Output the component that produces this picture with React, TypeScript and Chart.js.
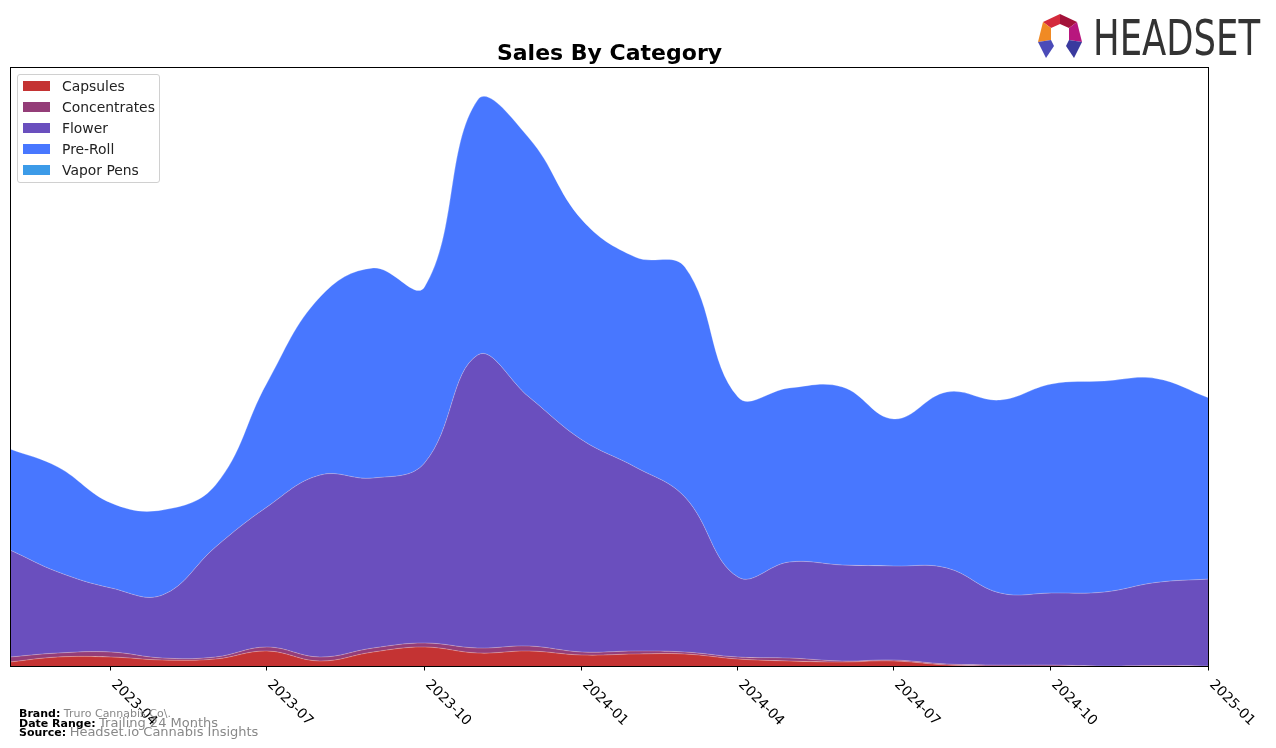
import React, { useEffect, useRef } from "react";
import { Chart, registerables } from "chart.js";

Chart.register(...registerables);

// ---- Data (arbitrary units) ----
const months = [
  "2023-02", "2023-03", "2023-04", "2023-05", "2023-06", "2023-07",
  "2023-08", "2023-09", "2023-10", "2023-11", "2023-12", "2024-01",
  "2024-02", "2024-03", "2024-04", "2024-05", "2024-06", "2024-07",
  "2024-08", "2024-09", "2024-10", "2024-11", "2024-12", "2025-01",
];
const capsules = [5, 10, 10, 7, 8, 16, 6, 15, 20, 14, 16, 12, 13, 13, 8, 6, 5, 6, 2, 1, 1, 0.5, 0.5, 0.5];
const concentrates = [5, 4, 5, 2, 2, 4, 4, 4, 4, 5, 5, 3, 3, 2, 2, 3, 1, 1, 1, 1, 1, 0.5, 1, 0.5];
const flower = [107, 81, 64, 63, 110, 140, 182, 170, 180, 293, 249, 212, 184, 155, 80, 96, 96, 94, 96, 72, 72, 74, 83, 87];
const preRoll = [101, 105, 85, 85, 62, 124, 178, 210, 176, 255, 259, 220, 210, 230, 180, 174, 178, 147, 176, 193, 209, 211, 204, 181];
const vaporPens = [0, 0, 0, 0, 0, 0, 0, 0, 0, 0, 0, 0, 0, 0, 0, 0, 0, 0, 0, 0, 0, 0, 0, 0];

const tickLabels = ["2023-04", "2023-07", "2023-10", "2024-01", "2024-04", "2024-07", "2024-10", "2025-01"];

const seriesNames = ["Capsules", "Concentrates", "Flower", "Pre-Roll", "Vapor Pens"];
const seriesColors = ["#c43333", "#943d78", "#6a4fbe", "#4877ff", "#3c9be8"];
const seriesValues = [capsules, concentrates, flower, preRoll, vaporPens];

const START = Date.UTC(2023, 1, 1);
function dayOffset(ym: string): number {
  const [y, m] = ym.split("-").map(Number);
  return (Date.UTC(y, m - 1, 1) - START) / 86400000;
}

const framePlugin = {
  id: "frameAndTicks",
  afterDraw(chart: any) {
    const { ctx, chartArea } = chart;
    const xs = chart.scales.x;
    ctx.save();
    ctx.strokeStyle = "#000";
    ctx.lineWidth = 1;
    const l = Math.round(chartArea.left) + 0.5;
    const r = Math.round(chartArea.right) - 0.5;
    const t = Math.round(chartArea.top) + 0.5;
    const b = Math.round(chartArea.bottom) - 0.5;
    ctx.strokeRect(l, t, r - l, b - t);
    ctx.font = "13.9px 'DejaVu Sans'";
    ctx.fillStyle = "#000";
    ctx.textAlign = "left";
    ctx.textBaseline = "top";
    for (const lab of tickLabels) {
      const px = Math.round(xs.getPixelForValue(dayOffset(lab))) - 0.5;
      ctx.beginPath();
      ctx.moveTo(px, b);
      ctx.lineTo(px, b + 4);
      ctx.stroke();
      ctx.save();
      ctx.translate(px + 8, b + 11);
      ctx.rotate(Math.PI / 4);
      ctx.fillText(lab, 0, 0);
      ctx.restore();
    }
    ctx.restore();
  },
};

export default function App() {
  const canvasRef = useRef<HTMLCanvasElement | null>(null);

  useEffect(() => {
    if (!canvasRef.current) return;
    const datasets = seriesNames.map((name, i) => ({
      label: name,
      data: months.map((m, j) => ({ x: dayOffset(m), y: seriesValues[i][j] })),
      backgroundColor: seriesColors[i],
      borderColor: "rgba(255,255,255,0.25)",
      borderWidth: 1,
      fill: i === 0 ? "origin" : "-1",
      tension: 0.4,
      pointRadius: 0,
      pointHoverRadius: 0,
    }));
    const chart = new Chart(canvasRef.current, {
      type: "line",
      data: { datasets },
      options: {
        responsive: false,
        animation: false,
        events: [],
        layout: { padding: { left: 10, right: 67, top: 67, bottom: 81 } },
        plugins: {
          legend: { display: false },
          title: { display: false },
          tooltip: { enabled: false },
        },
        scales: {
          x: { type: "linear", min: 0, max: dayOffset("2025-01"), display: false },
          y: { stacked: true, min: 0, max: 600, display: false },
        },
      },
      plugins: [framePlugin],
    } as any);
    return () => chart.destroy();
  }, []);

  const font = "'DejaVu Sans', sans-serif";
  return (
    <div style={{ position: "fixed", left: 0, top: 0, width: 1276, height: 748, background: "#fff", overflow: "hidden", fontFamily: font }}>
      <canvas ref={canvasRef} width={1276} height={748} style={{ position: "absolute", left: 0, top: 0 }} />
      <div style={{ position: "absolute", left: 0, width: 1219, top: 40, textAlign: "center", fontSize: 22, fontWeight: "bold", color: "#000", lineHeight: "26px" }}>
        Sales By Category
      </div>
      {/* Legend */}
      <div style={{ position: "absolute", left: 17, top: 74, width: 141, height: 107, border: "1px solid #d0d0d0", borderRadius: 3, background: "rgba(255,255,255,0.8)" }}>
        {seriesNames.map((n, i) => (
          <div key={n} style={{ position: "absolute", left: 5, top: 4 + i * 21, height: 14, display: "flex", alignItems: "center" }}>
            <div style={{ width: 27, height: 10, background: seriesColors[i] }} />
            <span style={{ marginLeft: 12, fontSize: 13.9, color: "#222", whiteSpace: "nowrap" }}>{n}</span>
          </div>
        ))}
      </div>
      {/* Footer */}
      <div style={{ position: "absolute", left: 19, top: 708, fontSize: 11, lineHeight: "12px", whiteSpace: "nowrap" }}>
        <b>Brand:</b> <span style={{ color: "#888", fontSize: 11 }}>Truro Cannabis Co\.</span>
      </div>
      <div style={{ position: "absolute", left: 19, top: 716, fontSize: 11, lineHeight: "13px", whiteSpace: "nowrap" }}>
        <b>Date Range:</b> <span style={{ color: "#888", fontSize: 13 }}>Trailing 24 Months</span>
      </div>
      <div style={{ position: "absolute", left: 19, top: 725, fontSize: 11, lineHeight: "13px", whiteSpace: "nowrap" }}>
        <b>Source:</b> <span style={{ color: "#888", fontSize: 13 }}>Headset.io Cannabis Insights</span>
      </div>
      {/* Logo */}
      <svg width={240} height={60} style={{ position: "absolute", left: 1030, top: 5 }} viewBox="1030 5 240 60">
        <polygon points="1043,22 1060,14 1060,24 1051,28" fill="#d42a3c" />
        <polygon points="1060,14 1077,22 1069,28 1060,24" fill="#a3123a" />
        <polygon points="1043,22 1051,28 1051,40 1038,42" fill="#f08a24" />
        <polygon points="1077,22 1082,42 1069,40 1069,28" fill="#b8177e" />
        <polygon points="1038,42 1051,40 1054,46 1046,58" fill="#4b4bb8" />
        <polygon points="1082,42 1069,40 1066,46 1074,58" fill="#3a3a9e" />
        <text x={1093} y={55} fontFamily="'Liberation Sans Narrow', 'DejaVu Sans Condensed', sans-serif" fontSize={50} fill="#333" textLength={167} lengthAdjust="spacingAndGlyphs">HEADSET</text>
      </svg>
    </div>
  );
}
